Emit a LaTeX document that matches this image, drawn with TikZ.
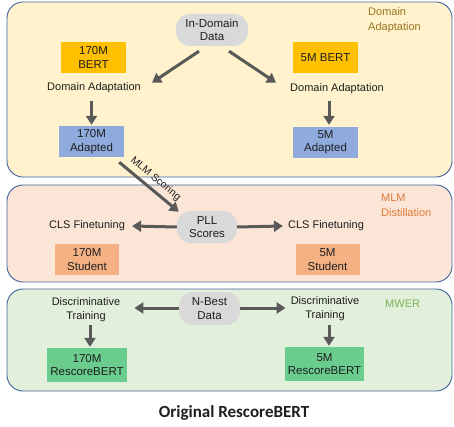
\documentclass[tikz,border=0pt]{standalone}
\usepackage{fontspec}
\setmainfont{Liberation Sans}
\newfontfamily\titlefont{Carlito}
\usetikzlibrary{arrows.meta,calc}
\definecolor{panelborder}{HTML}{41639A}
\definecolor{yellowbg}{HTML}{FFF2CC}
\definecolor{peachbg}{HTML}{FBE5D6}
\definecolor{greenbg}{HTML}{E2EFDA}
\definecolor{grayfill}{HTML}{D9D9D9}
\definecolor{bertc}{HTML}{FFC000}
\definecolor{adaptc}{HTML}{8FAADC}
\definecolor{studentc}{HTML}{F4B183}
\definecolor{rescorec}{HTML}{6ACD8E}
\definecolor{arrowc}{HTML}{595959}
\definecolor{dacol}{HTML}{977420}
\definecolor{mlmcol}{HTML}{DD7A3A}
\definecolor{mwercol}{HTML}{7DB35A}
\definecolor{txt}{HTML}{1E1E1E}
\begin{document}
\begin{tikzpicture}[x=1pt,y=-1pt,
  panel/.style={draw=panelborder,line width=0.9pt,rounded corners=16pt},
  box/.style={draw=none,minimum width=65pt,minimum height=31pt,align=center,inner sep=0pt,
    text=txt,font=\fontsize{11.5}{13.4}\selectfont},
  graynode/.style={fill=grayfill,draw=none,rounded corners=14pt,align=center,inner sep=0pt,
    text=txt,font=\fontsize{11.5}{13.4}\selectfont},
  lbl/.style={align=center,inner sep=0pt,text=txt,font=\fontsize{11}{14.5}\selectfont},
  ptitle/.style={align=left,anchor=west,inner sep=0pt,font=\fontsize{11}{15}\selectfont},
  arr/.style={draw=arrowc,line width=3pt,-{Triangle[length=9pt,width=11pt]}}
]
\useasboundingbox (0,0) rectangle (454,427);

% panels
\draw[panel,fill=yellowbg] (7,2) rectangle (452,177);
\draw[panel,fill=peachbg] (7,185) rectangle (452,282);
\draw[panel,fill=greenbg] (7,289) rectangle (452,391);

\node[ptitle,text=dacol] (t1) at (368,20) {Domain\\Adaptation};
\node[ptitle,text=mlmcol] (t2) at (381,205) {MLM\\Distillation};
\node[ptitle,text=mwercol] (t3) at (385,304) {MWER};

% domain adaptation panel
\node[graynode,minimum width=72pt,minimum height=32pt] (indomain) at (212,30) {In-Domain\\Data};
\node[box,fill=bertc] (b170) at (93.5,57.5) {170M\\BERT};
\node[box,fill=bertc] (b5) at (325.5,57.5) {5M BERT};
\node[lbl] (da170) at (94,88) {Domain Adaptation};
\node[lbl] (da5) at (337,89) {Domain Adaptation};
\node[box,fill=adaptc] (a170) at (91.5,141.5) {170M\\Adapted};
\node[box,fill=adaptc] (a5) at (325.5,142.5) {5M\\Adapted};

\draw[arr] ($(indomain.south)+(-13,5)$) -- ($(da170.north east)+(11,0)$);
\draw[arr] ($(indomain.south)+(17,5)$) -- ($(da5.north west)+(-14,-1)$);
\draw[arr] ($(a170.north)+(0,-25)$) -- ($(a170.north)+(0,-1)$);
\draw[arr] ($(a5.north)+(3.5,-26)$) -- ($(a5.north)+(3.5,-2)$);

% MLM distillation panel
\node[graynode,minimum width=60pt,minimum height=32pt] (pll) at (207,227) {PLL\\Scores};
\node[lbl] (cls170) at (87,226) {CLS Finetuning};
\node[lbl] (cls5) at (326,226) {CLS Finetuning};
\node[box,fill=studentc,minimum width=64pt] (s170) at (87,259.5) {170M\\Student};
\node[box,fill=studentc,minimum width=64pt] (s5) at (327.5,259.5) {5M\\Student};

\draw[arr] ($(a170.south east)+(-5,5)$) -- node[sloped,above=4pt,inner sep=0pt,text=txt,font=\fontsize{10.5}{12}\selectfont] {MLM Scoring} ($(pll.north west)+(2,1)$);
\draw[arr] (pll.west) -- ($(cls170.east)+(7,0)$);
\draw[arr] (pll.east) -- ($(cls5.west)+(-5,0)$);

% MWER panel
\node[graynode,minimum width=61pt,minimum height=33pt] (nbest) at (209.5,308.5) {N-Best\\Data};
\node[lbl] (disc170) at (86,309.5) {Discriminative\\Training};
\node[lbl] (disc5) at (325,308.5) {Discriminative\\Training};
\node[box,fill=rescorec,minimum width=80pt,minimum height=34pt] (r170) at (87,365) {170M\\RescoreBERT};
\node[box,fill=rescorec,minimum width=79pt,minimum height=34pt] (r5) at (324.5,364) {5M\\RescoreBERT};

\draw[arr] ($(nbest.west)+(0,-0.5)$) -- ($(disc170.east)+(14,-1.5)$);
\draw[arr] ($(nbest.east)+(0,-0.5)$) -- ($(disc5.west)+(-5,-0.5)$);
\draw[arr] ($(r170.north)+(3,-23)$) -- ($(r170.north)+(3,-1)$);
\draw[arr] ($(r5.north)+(4.5,-22)$) -- ($(r5.north)+(4.5,-1)$);

% title
\node[inner sep=0pt,font=\titlefont\bfseries\fontsize{17}{20}\selectfont,text=txt] (title) at (234,413) {Original RescoreBERT};
\end{tikzpicture}
\end{document}
